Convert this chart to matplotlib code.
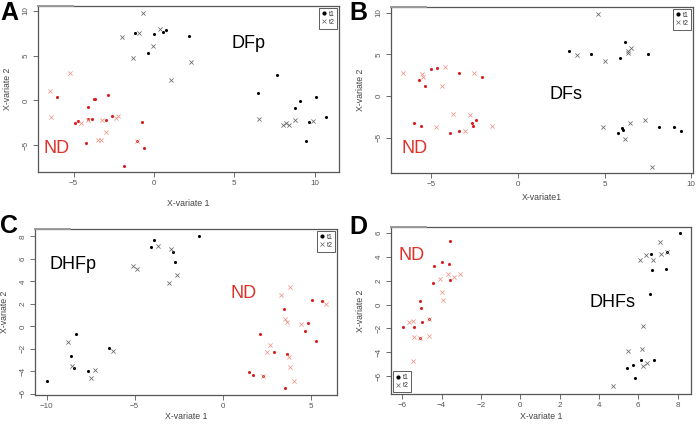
import numpy as np
import matplotlib
matplotlib.use("Agg")
import matplotlib.pyplot as plt
from matplotlib.lines import Line2D

plt.rcParams['font.family'] = ['Liberation Sans', 'DejaVu Sans']

W, H = 696, 424

# ---- panel A: DFp vs ND ----
A_dfp_t1 = np.array([(-1.16, 7.54), (-0.02, 7.39), (0.58, 7.65), (0.72, 7.87), (-0.37, 5.26),
                     (2.21, 7.24), (7.69, 2.87), (6.45, 0.86), (9.11, -0.04), (10.08, 0.34),
                     (8.78, -0.90), (10.74, -1.90), (9.67, -2.43), (9.46, -4.59)])
A_dfp_t2 = np.array([(-0.70, 9.74), (-1.96, 7.09), (-0.91, 7.57), (0.37, 7.95), (-0.04, 6.08),
                     (-1.30, 4.78), (2.29, 4.33), (1.07, 2.31), (6.53, -2.09), (8.04, -2.76),
                     (8.20, -2.50), (8.41, -2.76), (8.78, -2.20), (9.90, -2.35)])
A_nd_t1 = np.array([(-6.05, 0.34), (-3.74, 0.15), (-3.66, 0.15), (-2.85, 0.60), (-4.13, -0.71),
                    (-4.92, -2.54), (-4.75, -2.28), (-4.13, -2.05), (-3.84, -2.09), (-3.00, -2.20),
                    (-2.60, -1.75), (-4.26, -4.81), (-0.72, -2.39), (-1.07, -4.59), (-0.62, -5.37),
                    (-1.86, -7.35)])
A_nd_t2 = np.array([(-5.25, 3.02), (-6.47, 1.04), (-6.40, -1.90), (-4.55, -2.54), (-3.26, -2.24),
                    (-2.38, -1.94), (-2.21, -1.72), (-2.98, -3.58), (-3.47, -4.40), (-3.29, -4.40),
                    (-4.13, -2.15), (-1.07, -4.59)])

# ---- panel B: DFs vs ND ----
B_dfs_t1 = np.array([(2.94, 5.44), (4.22, 5.00), (5.91, 4.52), (6.16, 6.48), (7.49, 5.04),
                     (5.80, -4.48), (5.99, -3.80), (6.05, -4.08), (8.12, -3.68), (8.98, -3.68),
                     (9.42, -4.20)])
B_dfs_t2 = np.array([(4.61, 9.84), (3.40, 4.96), (5.03, 4.20), (6.37, 5.40), (6.55, 5.76),
                     (6.37, 5.20), (4.89, -3.68), (6.49, -3.24), (7.33, -2.88), (6.18, -5.12),
                     (7.75, -8.52)])
B_nd_t1 = np.array([(-5.05, 3.20), (-4.68, 3.32), (-5.70, 1.96), (-5.36, 1.24), (-3.40, 2.80),
                    (-2.09, 2.24), (-6.03, -3.20), (-5.57, -3.64), (-3.92, -4.48), (-3.42, -4.20),
                    (-2.65, -3.20), (-2.59, -3.56), (-2.42, -2.88)])
B_nd_t2 = np.array([(-6.62, 2.72), (-5.53, 2.64), (-5.49, 2.24), (-4.20, 3.52), (-4.38, 1.16),
                    (-2.55, 2.80), (-3.76, -2.16), (-2.76, -2.24), (-4.72, -3.68), (-3.05, -4.16),
                    (-1.50, -3.60)])

# ---- panel C: DHFp vs ND ----
C_dhfp_t1 = np.array([(-3.90, 7.71), (-4.09, 7.03), (-1.33, 8.03), (-2.80, 6.65), (-2.73, 5.76),
                      (-8.31, -0.71), (-8.62, -2.62), (-8.47, -3.71), (-7.67, -3.97), (-6.48, -1.91),
                      (-10.0, -4.88)])
C_dhfp_t2 = np.array([(-3.69, 7.12), (-2.92, 6.91), (-5.09, 5.35), (-4.85, 5.09), (-2.58, 4.53),
                      (-3.05, 3.82), (-8.79, -1.35), (-8.54, -3.50), (-7.25, -3.85), (-7.46, -4.56),
                      (-6.23, -2.15)])
C_nd_t1 = np.array([(5.06, 2.35), (5.64, 2.24), (3.48, 1.56), (4.85, 0.29), (4.66, -0.41),
                    (5.27, -1.32), (2.12, -0.71), (2.90, -2.24), (3.67, -2.47), (1.50, -4.06),
                    (1.72, -4.29), (2.29, -4.41), (3.56, -5.50)])
C_nd_t2 = np.array([(3.81, 3.50), (3.33, 2.76), (5.87, 2.03), (3.56, 0.62), (3.66, 0.41),
                    (4.45, 0.21), (2.69, -1.68), (2.50, -2.32), (3.79, -2.68), (3.84, -3.62),
                    (2.29, -4.41), (4.02, -4.82)])

# ---- panel D: DHFs vs ND ----
D_dhfs_t1 = np.array([(8.14, 5.96), (6.63, 4.23), (7.44, 4.43), (6.71, 2.87), (7.42, 2.98),
                      (6.59, 0.89), (6.15, -4.60), (6.78, -4.60), (5.75, -5.04), (5.42, -5.29),
                      (5.81, -6.13)])
D_dhfs_t2 = np.array([(7.08, 5.24), (6.39, 4.12), (6.10, 3.76), (6.73, 3.70), (7.14, 4.21),
                      (7.44, 4.43), (6.25, -1.78), (6.17, -3.73), (5.49, -3.87), (6.25, -5.10),
                      (6.44, -4.93), (4.73, -6.77)])
D_nd_t1 = np.array([(-3.58, 5.35), (-4.36, 3.26), (-3.97, 3.54), (-3.63, 3.37), (-4.41, 1.84),
                    (-3.59, 2.01), (-5.12, 0.31), (-5.03, -0.33), (-4.97, -1.42), (-4.64, -1.17),
                    (-5.98, -1.84), (-5.39, -1.87), (-5.08, -2.84)])
D_nd_t2 = np.array([(-3.66, 2.56), (-3.37, 2.26), (-3.07, 2.51), (-4.07, 2.12), (-4.00, 1.03),
                    (-3.95, 0.39), (-5.64, -1.50), (-5.46, -1.34), (-5.39, -2.73), (-4.66, -2.62),
                    (-5.47, -4.71), (-4.64, -1.17), (-5.08, -2.84)])

RED_DOT = '#d81e1e'
RED_X = '#ee9486'
BLK_X = '#666666'
ND_TXT = '#e0302a'


def px_axes(left, top, right, bottom):
    return [left / W, 1 - bottom / H, (right - left) / W, (bottom - top) / H]


def draw_panel(box, xlim, ylim, xticks, yticks, grp_t1, grp_t2, nd_t1, nd_t2,
               xlabel, letter, letter_pos, labels, legend_loc, xlab_y):
    ax = fig.add_axes(px_axes(*box))
    ax.scatter(grp_t1[:, 0], grp_t1[:, 1], s=5, c='black', marker='o', lw=0)
    ax.scatter(grp_t2[:, 0], grp_t2[:, 1], s=9, c=BLK_X, marker='x', lw=0.55)
    ax.scatter(nd_t1[:, 0], nd_t1[:, 1], s=5, c=RED_DOT, marker='o', lw=0)
    ax.scatter(nd_t2[:, 0], nd_t2[:, 1], s=9, c=RED_X, marker='x', lw=0.55)
    ax.set_xlim(*xlim)
    ax.set_ylim(*ylim)
    ax.set_xticks(xticks)
    ax.set_yticks(yticks)
    ax.tick_params(direction='out', length=3.5, width=0.6, colors='#555555',
                   labelsize=5.8, pad=2.5)
    for lab in ax.get_yticklabels():
        lab.set_rotation(90)
        lab.set_va('center')
    for sp in ax.spines.values():
        sp.set_color('#555555')
        sp.set_linewidth(0.9)
    ax.set_xlabel(xlabel, fontsize=6.3, color='#444444')
    ax.set_ylabel('X-variate 2', fontsize=6.3, color='#444444')
    ax.xaxis.set_label_coords(0.5, xlab_y)
    ax.yaxis.set_label_coords(-0.087, 0.5)

    for txt, (tx, ty), col in labels:
        ax.text(tx, ty, txt, transform=ax.transAxes, fontsize=13, color=col,
                ha='center', va='center')

    handles = [Line2D([], [], ls='none', marker='o', ms=2.0, color='black'),
               Line2D([], [], ls='none', marker='x', ms=3.0, mew=0.5, color=BLK_X)]
    leg = ax.legend(handles, ['t1', 't2'], loc=legend_loc, fontsize=5,
                    handlelength=0.6, handletextpad=0.4, borderpad=0.4,
                    labelspacing=0.2, borderaxespad=0.25, fancybox=False,
                    framealpha=1, edgecolor='#444444')
    leg.get_frame().set_linewidth(0.6)
    for t in leg.get_texts():
        t.set_color('#333333')

    fig.text(letter_pos[0] / W, 1 - letter_pos[1] / H, letter, fontsize=18,
             fontweight='bold', ha='left', va='baseline')
    # grey scan artefact at the top-left corner of the frame
    fig.add_artist(Line2D([box[0] / W, (box[0] + 35) / W],
                          [1 - box[1] / H, 1 - box[1] / H],
                          color='#9a9a9a', lw=1.4))
    return ax


fig = plt.figure(figsize=(W / 100, H / 100), dpi=100)

draw_panel((38, 6, 339, 172), (-7.22, 11.52), (-8.02, 10.56), [-5, 0, 5, 10], [-5, 0, 5, 10],
           A_dfp_t1, A_dfp_t2, A_nd_t1, A_nd_t2, 'X-variate 1', 'A', (0, 20),
           [('DFp', (0.70, 0.777), 'black'), ('ND', (0.063, 0.139), ND_TXT)],
           'upper right', -0.165)

draw_panel((391, 7, 693, 173), (-7.33, 10.1), (-9.24, 10.68), [-5, 0, 5, 10], [-5, 0, 5, 10],
           B_dfs_t1, B_dfs_t2, B_nd_t1, B_nd_t2, 'X-variate1', 'B', (349, 20),
           [('DFs', (0.579, 0.47), 'black'), ('ND', (0.079, 0.15), ND_TXT)],
           'upper right', -0.12)

draw_panel((35, 229, 337, 395), (-10.66, 6.49), (-6.1, 8.65), [-10, -5, 0, 5],
           [-6, -4, -2, 0, 2, 4, 6, 8],
           C_dhfp_t1, C_dhfp_t2, C_nd_t1, C_nd_t2, 'X-variate 1', 'C', (0, 233),
           [('DHFp', (0.126, 0.789), 'black'), ('ND', (0.689, 0.614), ND_TXT)],
           'upper right', -0.10)

draw_panel((391, 227, 691, 394), (-6.57, 8.68), (-7.48, 6.48), [-6, -4, -2, 0, 2, 4, 6, 8],
           [-6, -4, -2, 0, 2, 4, 6],
           D_dhfs_t1, D_dhfs_t2, D_nd_t1, D_nd_t2, 'X-variate 1', 'D', (349, 234),
           [('ND', (0.067, 0.832), ND_TXT), ('DHFs', (0.737, 0.545), 'black')],
           'lower left', -0.108)

fig.savefig('out.png', dpi=100)
